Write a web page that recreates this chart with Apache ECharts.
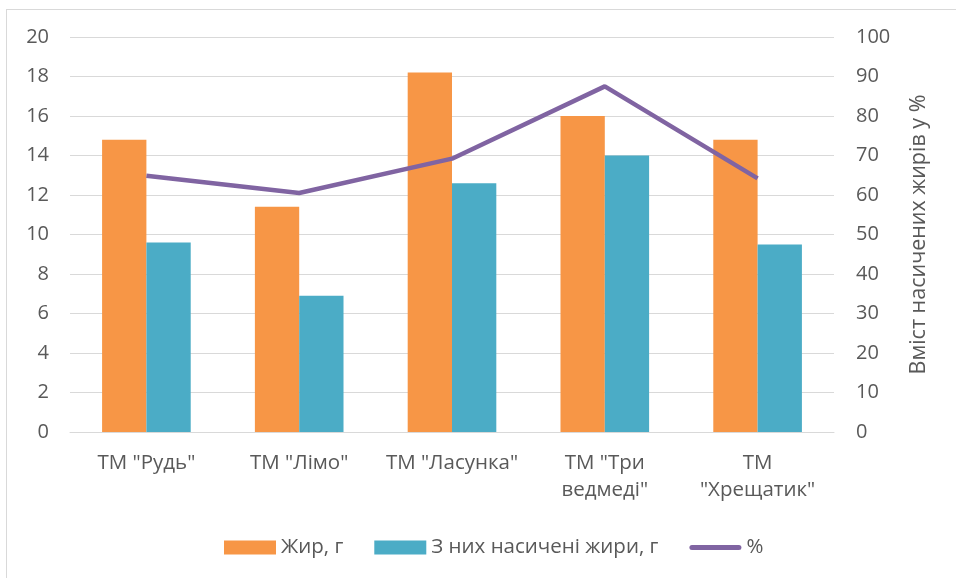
<!DOCTYPE html>
<html><head><meta charset="utf-8">
<script src="https://cdn.jsdelivr.net/npm/echarts@6/dist/echarts.min.js"></script>
<style>
html,body{margin:0;padding:0;background:#fff;overflow:hidden;}
#frame{position:absolute;left:6px;top:9px;width:960px;height:580px;border:1px solid #d9d9d9;}
#chart{position:absolute;left:0;top:0;width:956px;height:578px;}
</style></head>
<body><div id="frame"></div><div id="chart"></div>
<script>
const categories = ['ТМ "Рудь"', 'ТМ "Лімо"', 'ТМ "Ласунка"', 'ТМ "Три\nведмеді"', 'ТМ\n"Хрещатик"'];
const fat = [14.8, 11.4, 18.2, 16.0, 14.8];
const saturated = [9.6, 6.9, 12.6, 14.0, 9.5];
const percent = [64.9, 60.5, 69.2, 87.5, 64.2];
const seriesNames = ['Жир, г', 'З них насичені жири, г', '%'];
const rightAxisName = 'Вміст насичених жирів у %';

const font = 'Open Sans, Noto Sans, sans-serif';
const txt = '#595959';
const chart = echarts.init(document.getElementById('chart'));
chart.setOption({
  animation: false,
  textStyle: {fontFamily: font},
  grid: {left: 70, right: 122, top: 37, bottom: 146},
  legend: {
    top: 532, left: 219, itemWidth: 52, itemHeight: 14, itemGap: 31, itemTextGap: 6,
    textStyle: {color: txt, fontSize: 20.5, fontFamily: font},
    data: [
      {name: seriesNames[0], icon: 'rect'},
      {name: seriesNames[1], icon: 'rect'},
      {name: seriesNames[2], icon: 'path://M2.5,0 L49.5,0 A2.5,2.5 0 0 1 49.5,5 L2.5,5 A2.5,2.5 0 0 1 2.5,0 Z'}
    ]
  },
  xAxis: {
    type: 'category', data: categories,
    axisLine: {lineStyle: {color: '#d9d9d9', width: 1}},
    axisTick: {show: false},
    axisLabel: {color: txt, fontSize: 20.5, margin: 18, lineHeight: 27, interval: 0}
  },
  yAxis: [
    {type: 'value', min: 0, max: 20, interval: 2,
     axisLine: {show: false}, axisTick: {show: false},
     axisLabel: {color: txt, fontSize: 20, margin: 21},
     splitLine: {lineStyle: {color: '#d9d9d9', width: 1}}},
    {type: 'value', min: 0, max: 100, interval: 10, position: 'right',
     axisLine: {show: false}, axisTick: {show: false},
     axisLabel: {color: txt, fontSize: 20, margin: 22, align: 'left'},
     splitLine: {show: false},
     name: rightAxisName, nameLocation: 'middle', nameRotate: 90, nameGap: 74,
     nameTextStyle: {color: txt, fontSize: 21.5}}
  ],
  series: [
    {name: seriesNames[0], type: 'bar', data: fat, itemStyle: {color: '#f79646'},
     barGap: '0%', barCategoryGap: '42%'},
    {name: seriesNames[1], type: 'bar', data: saturated, itemStyle: {color: '#4bacc6'},
     barGap: '0%', barCategoryGap: '42%'},
    {name: seriesNames[2], type: 'line', yAxisIndex: 1, data: percent,
     symbol: 'none', lineStyle: {color: '#8064a2', width: 4.5}, itemStyle: {color: '#8064a2'}}
  ]
});
</script></body></html>
